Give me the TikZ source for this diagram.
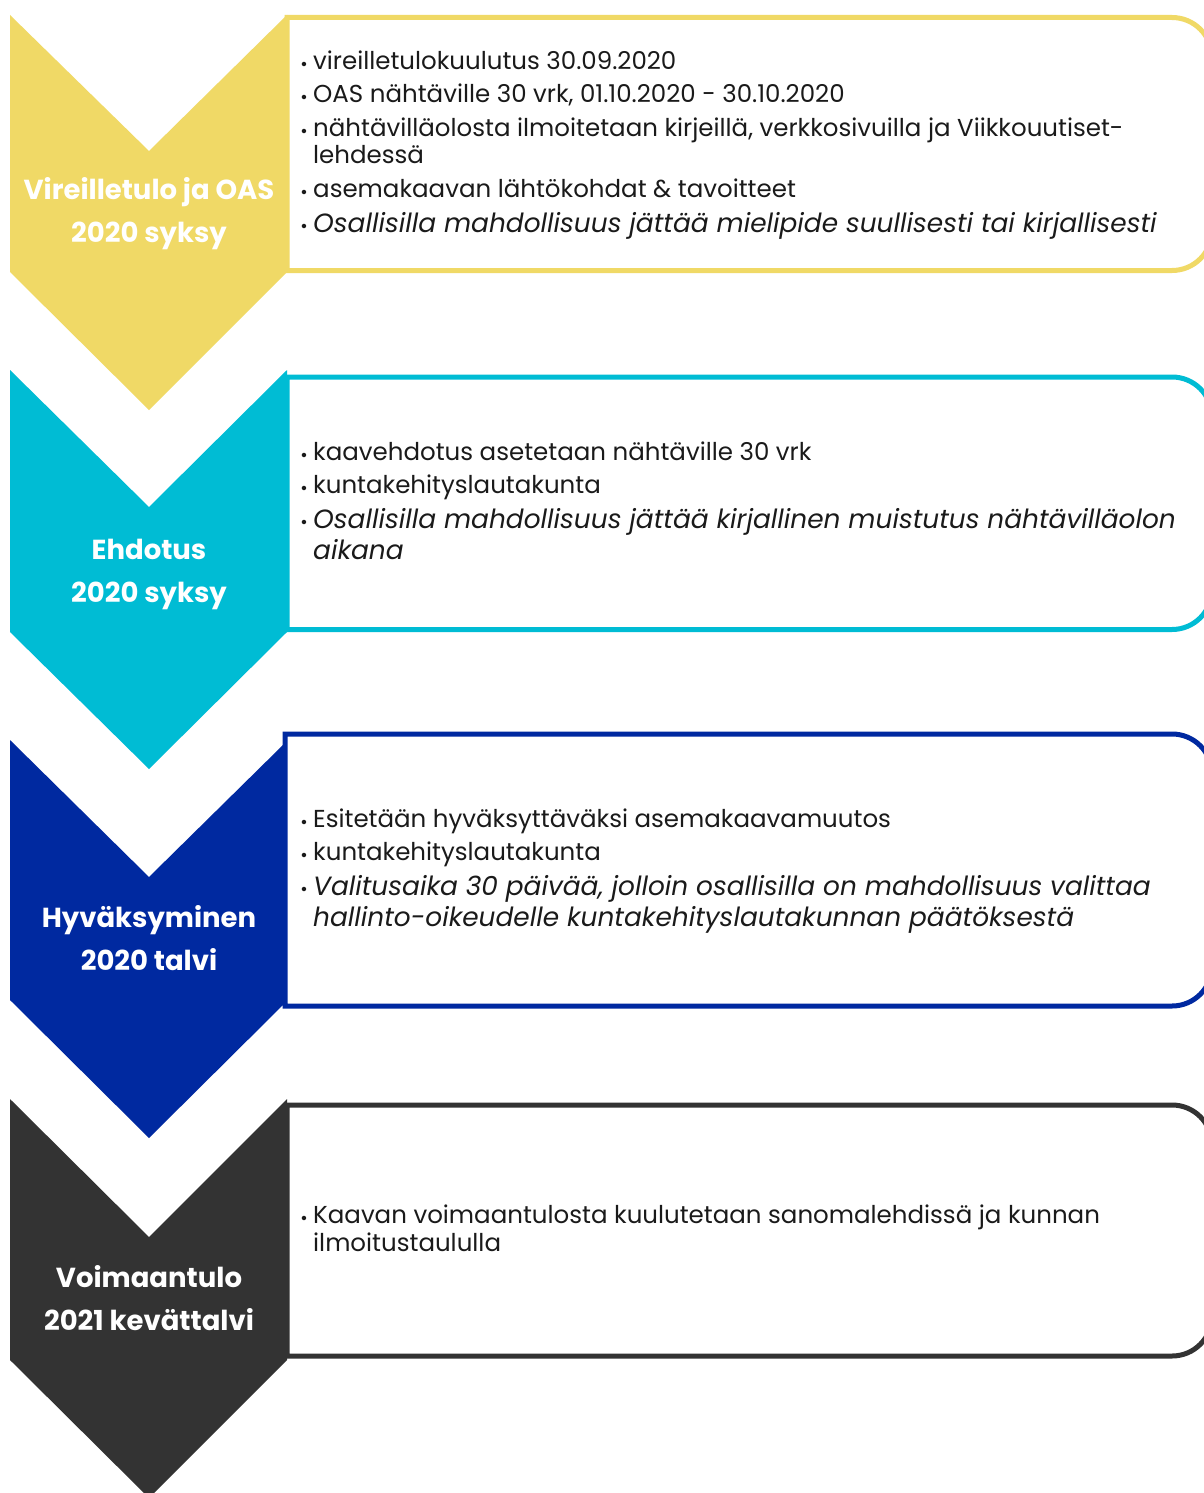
\documentclass[tikz,border=0pt]{standalone}
\usepackage{fontspec}
\setmainfont{Poppins}
\newfontfamily\lblfont{Poppins}
\definecolor{cyellow}{HTML}{F0D966}
\definecolor{ccyan}{HTML}{00BCD4}
\definecolor{cblue}{HTML}{0029A0}
\definecolor{cdark}{HTML}{333333}
\definecolor{textdark}{HTML}{1A1A1A}
\begin{document}
\begin{tikzpicture}[x=1pt,y=-1pt,
  bodytext/.style={anchor=base west, inner sep=0pt, text=textdark, font=\fontsize{24.5}{28}\selectfont},
  itext/.style={anchor=base west, inner sep=0pt, text=textdark, font=\fontsize{26.4}{32}\selectfont\itshape},
  bul/.style={anchor=base, inner sep=0pt, text=textdark, font=\fontsize{18}{18}\selectfont},
  lbl/.style={anchor=base, inner sep=0pt, text=white, font=\lblfont\bfseries\fontsize{27.5}{32}\selectfont},
  boxline/.style={line width=5pt, fill=white}]
\useasboundingbox (0,0) rectangle (1203,1493);
\fill[white] (0,0) rectangle (1203,1493);

% ---------- boxes ----------
\draw[boxline, draw=cyellow] (287,17.5) -- (1172,17.5) arc[start angle=-90, end angle=0, radius=40] -- (1212,230.5) arc[start angle=0, end angle=90, radius=40] -- (287,270.5) -- cycle;
\draw[boxline, draw=ccyan] (287,377) -- (1172,377) arc[start angle=-90, end angle=0, radius=40] -- (1212,589.5) arc[start angle=0, end angle=90, radius=40] -- (287,629.5) -- cycle;
\draw[boxline, draw=cblue] (285,734) -- (1172,734) arc[start angle=-90, end angle=0, radius=40] -- (1212,966) arc[start angle=0, end angle=90, radius=40] -- (285,1006) -- cycle;
\draw[boxline, draw=cdark] (287,1105) -- (1172,1105) arc[start angle=-90, end angle=0, radius=40] -- (1212,1316) arc[start angle=0, end angle=90, radius=40] -- (287,1356) -- cycle;

% ---------- chevrons ----------
\fill[cyellow] (10,15) -- (149,151) -- (287,15) -- (287,272) -- (149,410) -- (10,272) -- cycle;
\fill[ccyan] (10,370) -- (149,507) -- (287,370) -- (287,632) -- (149,769) -- (10,632) -- cycle;
\fill[cblue] (10,740) -- (149,877) -- (284,744) -- (284,1004) -- (149,1138) -- (10,1000) -- cycle;
\fill[cdark] (10,1099) -- (149,1237) -- (287,1099) -- (287,1360) -- (149,1498) -- (10,1360) -- cycle;

% ---------- chevron labels ----------
\node[lbl] (l1a) at (149,199) {Vireilletulo ja OAS};
\node[lbl] (l1b) at (149,242) {2020 syksy};
\node[lbl] (l2a) at (149,559) {Ehdotus};
\node[lbl] (l2b) at (149,602) {2020 syksy};
\node[lbl] (l3a) at (149,927) {Hyväksyminen};
\node[lbl] (l3b) at (149,970) {2020 talvi};
\node[lbl] (l4a) at (149,1287) {Voimaantulo};
\node[lbl] (l4b) at (149,1330) {2021 kevättalvi};

% ---------- box 1 ----------
\node[bul] (d11) at (304,71) {•};
\node[bodytext] (t11) at (313,70) {vireilletulokuulutus 30.09.2020};
\node[bul] (d12) at (304,104) {•};
\node[bodytext] (t12) at (313,103) {OAS nähtäville 30 vrk, 01.10.2020 - 30.10.2020};
\node[bul] (d13) at (304,137) {•};
\node[bodytext] (t13) at (313,136) {nähtävilläolosta ilmoitetaan kirjeillä, verkkosivuilla ja Viikkouutiset-};
\node[bodytext] (t13b) at (313,164) {lehdessä};
\node[bul] (d14) at (304,198) {•};
\node[bodytext] (t14) at (313,197) {asemakaavan lähtökohdat \& tavoitteet};
\node[bul] (d15) at (304,232) {•};
\node[itext] (t15) at (313,232) {Osallisilla mahdollisuus jättää mielipide suullisesti tai kirjallisesti};

% ---------- box 2 ----------
\node[bul] (d21) at (304,461) {•};
\node[bodytext] (t21) at (313,460) {kaavehdotus asetetaan nähtäville 30 vrk};
\node[bul] (d22) at (304,494) {•};
\node[bodytext] (t22) at (313,493) {kuntakehityslautakunta};
\node[bul] (d23) at (304,528) {•};
\node[itext] (t23) at (313,528) {Osallisilla mahdollisuus jättää kirjallinen muistutus nähtävilläolon};
\node[itext] (t23b) at (313,559) {aikana};

% ---------- box 3 ----------
\node[bul] (d31) at (304,828) {•};
\node[bodytext] (t31) at (313,827) {Esitetään hyväksyttäväksi asemakaavamuutos};
\node[bul] (d32) at (304,861) {•};
\node[bodytext] (t32) at (313,860) {kuntakehityslautakunta};
\node[bul] (d33) at (304,895) {•};
\node[itext] (t33) at (313,895) {Valitusaika 30 päivää, jolloin osallisilla on mahdollisuus valittaa};
\node[itext] (t33b) at (313,926) {hallinto-oikeudelle kuntakehityslautakunnan päätöksestä};

% ---------- box 4 ----------
\node[bul] (d41) at (304,1224) {•};
\node[bodytext] (t41) at (313,1223) {Kaavan voimaantulosta kuulutetaan sanomalehdissä ja kunnan};
\node[bodytext] (t41b) at (313,1251) {ilmoitustaululla};
\end{tikzpicture}
\end{document}
